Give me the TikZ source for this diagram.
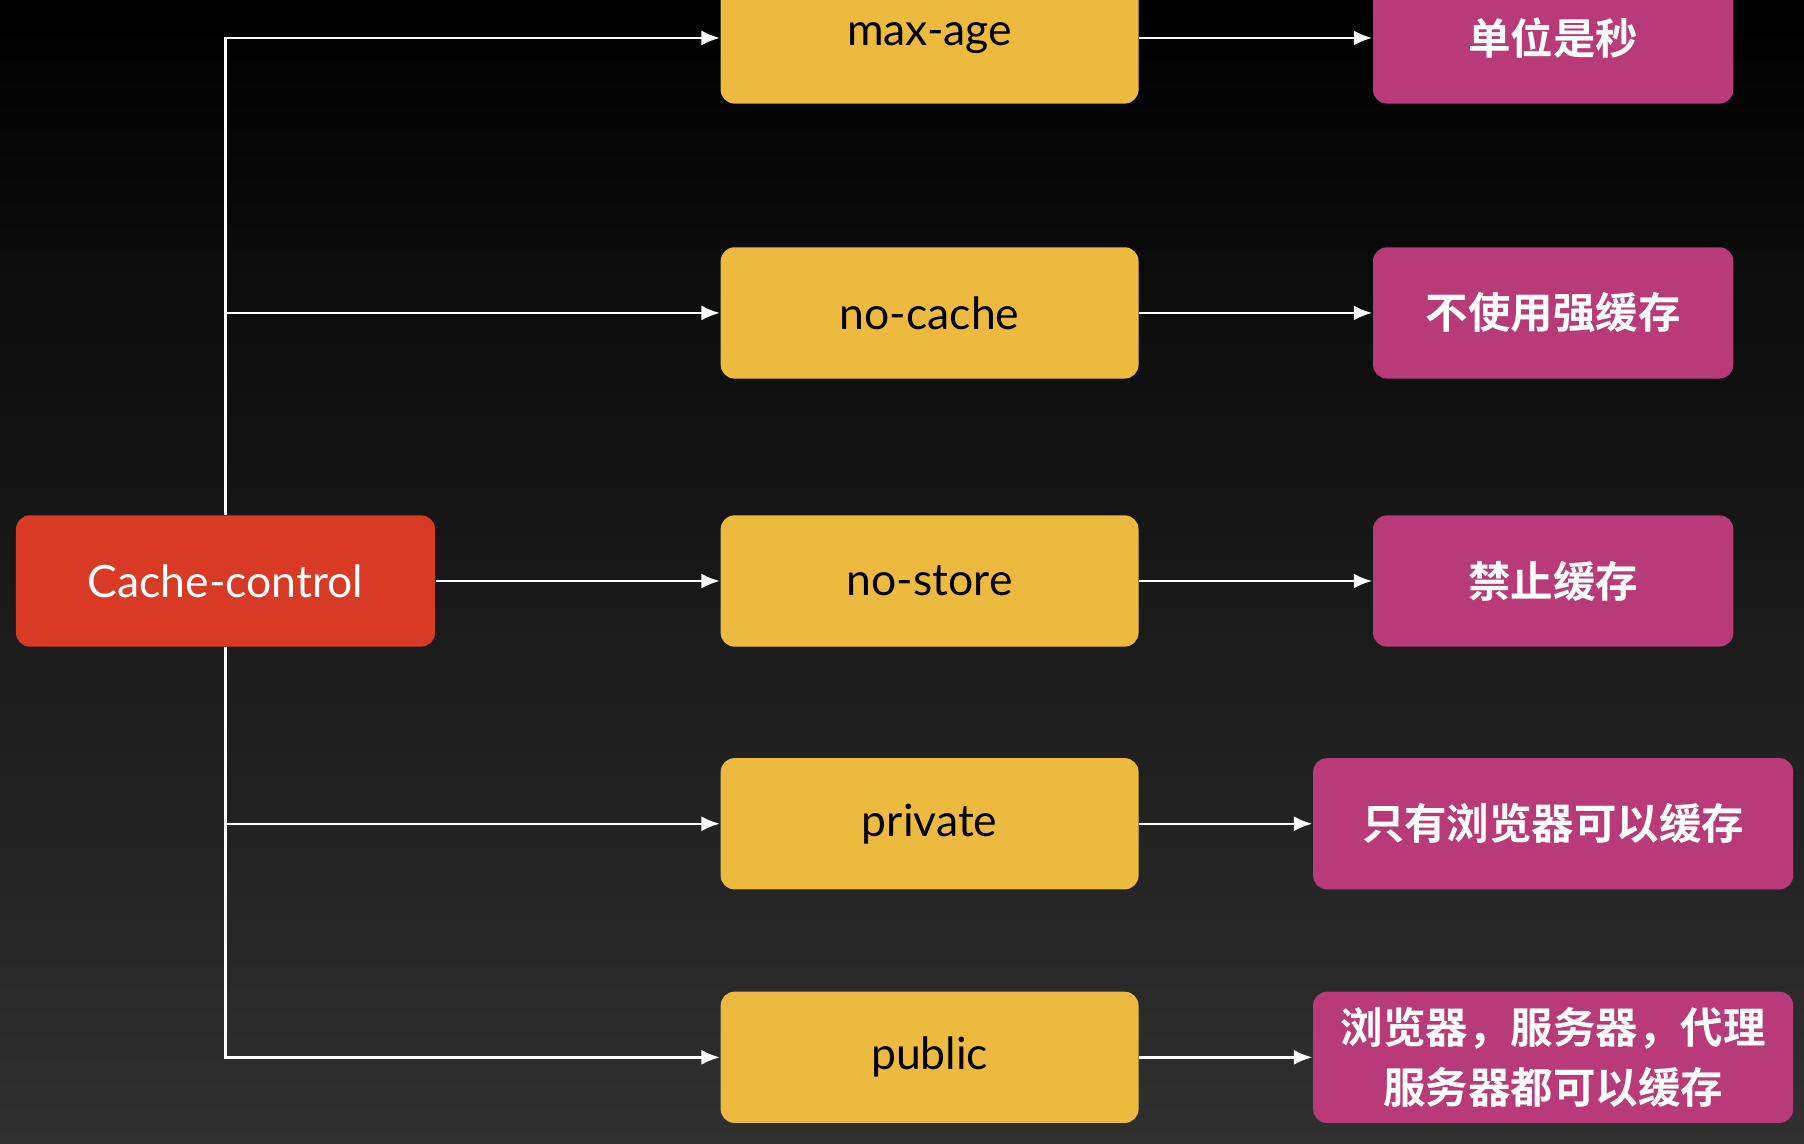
\documentclass[tikz,border=0pt]{standalone}
\usepackage{fontspec}
\setmainfont{Lato}
\newfontfamily\cjk{Noto Sans CJK SC}[BoldFont={Noto Sans CJK SC Bold}]
\usetikzlibrary{arrows.meta}
\definecolor{ccred}{RGB}{217,58,38}
\definecolor{optyellow}{RGB}{237,186,64}
\definecolor{descpink}{RGB}{184,58,120}
\tikzset{
  ccbox/.style = {fill=ccred, text=white, rounded corners=0.12cm, minimum width=3.64cm, minimum height=1.14cm, font=\fontsize{11}{13}\selectfont},
  optbox/.style = {fill=optyellow, text=black, rounded corners=0.12cm, minimum width=3.63cm, minimum height=1.14cm, font=\fontsize{11}{13}\selectfont},
  descbox/.style = {fill=descpink, text=white, rounded corners=0.12cm, minimum width=3.13cm, minimum height=1.14cm, align=center, font=\cjk\bfseries\fontsize{10.5}{15}\selectfont},
  widebox/.style = {descbox, minimum width=4.17cm},
  link/.style = {white, line width=0.6pt, -{Latex[length=1.6mm,width=1.3mm]}}
}
\begin{document}
\begin{tikzpicture}[x=0.01cm, y=-0.01cm]
  \useasboundingbox (0,0) rectangle (1568,994);
  \clip (0,0) rectangle (1568,994);
  \shade [top color=black, bottom color={rgb,255:red,48;green,48;blue,48}] (0,0) rectangle (1568,994);
  % root
  \node [ccbox] (cc) at (196,505) {Cache-control};
  % options
  \node [optbox] (maxage) at (808,33) {max-age};
  \node [optbox] (nocache) at (808,272) {no-cache};
  \node [optbox] (nostore) at (808,505) {no-store};
  \node [optbox] (private) at (808,716) {private};
  \node [optbox] (public) at (808,919) {public};
  % meanings
  \node [descbox] (seconds) at (1350,33) {单位是秒};
  \node [descbox] (nostrong) at (1350,272) {不使用强缓存};
  \node [descbox] (forbid) at (1350,505) {禁止缓存};
  \node [widebox] (browseronly) at (1350,716) {只有浏览器可以缓存};
  \node [widebox] (everyone) at (1350,919) {浏览器，服务器，代理\\服务器都可以缓存};
  % connectors
  \draw [link] (cc.north) |- (maxage.west);
  \draw [link] (cc.north) |- (nocache.west);
  \draw [link] (cc.east) -- (nostore.west);
  \draw [link] (cc.south) |- (private.west);
  \draw [link] (cc.south) |- (public.west);
  \draw [link] (maxage) -- (seconds);
  \draw [link] (nocache) -- (nostrong);
  \draw [link] (nostore) -- (forbid);
  \draw [link] (private) -- (browseronly);
  \draw [link] (public) -- (everyone);
\end{tikzpicture}
\end{document}
